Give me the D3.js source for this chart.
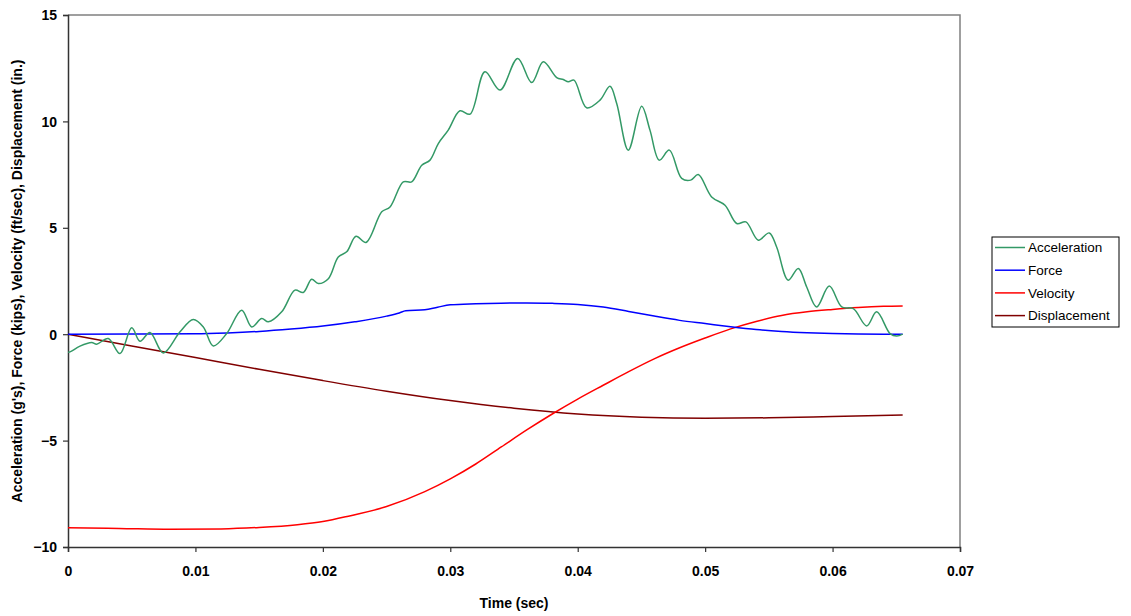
<!DOCTYPE html>
<html><head><meta charset="utf-8">
<script src="https://cdn.jsdelivr.net/npm/d3@7"></script>
<style>body{margin:0;background:#fff;}svg{display:block;font-family:"Liberation Sans",Arial,sans-serif;}</style>
</head><body><svg id="c" width="1131" height="616"></svg>
<script>
const xTicks = [0,0.01,0.02,0.03,0.04,0.05,0.06,0.07];
const xTickLabels = ["0","0.01","0.02","0.03","0.04","0.05","0.06","0.07"];
const yTicks = [-10,-5,0,5,10,15];
const seriesNames = ["Acceleration","Force","Velocity","Displacement"];
const seriesColors = ["#339966","#0000FF","#FF0000","#800000"];

const accelT = [0,0.00016,0.00094,0.00186,0.00225,0.00316,0.00408,0.0050,0.00565,0.00643,0.00748,0.00879,0.00983,0.01062,0.0114,0.01245,0.01363,0.01442,0.0152,0.01572,0.01677,0.01781,0.01846,0.01912,0.01964,0.02043,0.02121,0.02187,0.0226,0.02339,0.02462,0.02527,0.02631,0.02697,0.02776,0.02841,0.02906,0.02984,0.03076,0.03155,0.03272,0.0339,0.03529,0.03639,0.0373,0.03835,0.03887,0.03926,0.03971,0.0407,0.04175,0.04253,0.04306,0.04397,0.04502,0.04567,0.0464,0.04719,0.04816,0.04887,0.04946,0.05051,0.05156,0.05248,0.0532,0.05417,0.05503,0.05561,0.05652,0.05731,0.05797,0.05875,0.05974,0.06072,0.06163,0.06268,0.06346,0.06451,0.06503,0.0655];
const accelV = [-0.85,-0.83,-0.56,-0.39,-0.47,-0.2,-0.91,0.3,-0.33,0.08,-0.88,0.11,0.69,0.34,-0.55,0.03,1.13,0.34,0.74,0.58,1.05,2.07,1.96,2.58,2.38,2.61,3.63,3.87,4.6,4.31,5.75,5.98,7.16,7.16,7.94,8.18,8.96,9.59,10.5,10.34,12.33,11.47,12.96,11.83,12.8,12.06,11.97,11.86,11.94,10.64,11.0,11.65,10.84,8.65,10.71,9.59,8.18,8.65,7.32,7.24,7.5,6.45,6.06,5.2,5.28,4.42,4.76,4.1,2.54,3.09,2.22,1.28,2.26,1.28,1.2,0.39,1.05,0.03,-0.09,0.0];

const forceT = [0,0.005,0.01,0.0125,0.015,0.0175,0.02,0.0225,0.025,0.026,0.0265,0.028,0.029,0.030,0.032,0.034,0.036,0.038,0.040,0.042,0.044,0.046,0.048,0.050,0.052,0.054,0.056,0.058,0.060,0.062,0.0655];
const forceV = [0,0.01,0.02,0.06,0.13,0.24,0.38,0.58,0.85,1.0,1.1,1.15,1.27,1.38,1.43,1.46,1.47,1.45,1.40,1.28,1.07,0.85,0.65,0.50,0.35,0.22,0.13,0.07,0.03,0.01,0.0];

const velT = [0,0.004,0.008,0.012,0.015,0.018,0.020,0.022,0.025,0.028,0.030,0.032,0.034,0.036,0.038,0.040,0.042,0.044,0.046,0.048,0.050,0.052,0.054,0.056,0.058,0.060,0.062,0.064,0.0655];
const velV = [-9.10,-9.13,-9.17,-9.15,-9.08,-8.95,-8.80,-8.55,-8.10,-7.40,-6.80,-6.10,-5.30,-4.50,-3.75,-3.05,-2.40,-1.76,-1.16,-0.64,-0.18,0.25,0.60,0.88,1.05,1.16,1.25,1.31,1.33];

const dispT = [0,0.005,0.010,0.015,0.020,0.025,0.030,0.035,0.040,0.045,0.050,0.055,0.060,0.0655];
const dispV = [0,-0.55,-1.10,-1.65,-2.18,-2.68,-3.12,-3.48,-3.75,-3.90,-3.95,-3.93,-3.87,-3.80];

const svg = d3.select("#c");
const L=68,R=960,T=15,B=547;
const x = d3.scaleLinear().domain([0,0.07]).range([L,R]);
const y = d3.scaleLinear().domain([-10,15]).range([B,T]);

svg.append("path").attr("d",`M${L},${T}H${R}V${B}`).attr("fill","none").attr("stroke","#808080").attr("stroke-width",1.5);

const gx = svg.append("g").attr("transform",`translate(0,${B})`)
  .call(d3.axisBottom(x).tickValues(xTicks).tickFormat((d,i)=>xTickLabels[i]).tickSize(5).tickPadding(14));
const gy = svg.append("g").attr("transform",`translate(${L},0)`)
  .call(d3.axisLeft(y).tickValues(yTicks).tickSize(5).tickPadding(6));
[gx,gy].forEach(g=>{
  g.select(".domain").attr("stroke","#333").attr("stroke-width",1.5);
  g.selectAll(".tick line").attr("stroke","#333").attr("stroke-width",1.2);
  g.selectAll("text").attr("font-size",14).attr("font-weight","bold").attr("fill","#000").attr("font-family","Liberation Sans, Arial, sans-serif");
});
gx.selectAll("text").attr("dy","0.71em");
gy.selectAll("text").attr("dy","0.35em");

const series = [
  [accelT,accelV,d3.curveCatmullRom.alpha(0.5)],
  [forceT,forceV,d3.curveMonotoneX],
  [velT,velV,d3.curveMonotoneX],
  [dispT,dispV,d3.curveMonotoneX]
];
[3,2,1,0].forEach(i=>{
  const [ts,vs,cv]=series[i];
  const data=ts.map((t,k)=>[t,vs[k]]);
  svg.append("path").datum(data)
    .attr("d",d3.line().x(d=>x(d[0])).y(d=>y(d[1])).curve(cv))
    .attr("fill","none").attr("stroke",seriesColors[i]).attr("stroke-width",1.5);
});

svg.append("text").attr("x",(L+R)/2).attr("y",608).attr("text-anchor","middle")
  .attr("font-size",14).attr("font-weight","bold").text("Time (sec)");
svg.append("text").attr("transform",`translate(22,${(T+B)/2}) rotate(-90)`).attr("text-anchor","middle")
  .attr("font-size",14).attr("font-weight","bold").text("Acceleration (g's), Force (kips), Velocity (ft/sec), Displacement (in.)");

const lg = svg.append("g");
lg.append("rect").attr("x",992).attr("y",237).attr("width",127).attr("height",90).attr("fill","#fff").attr("stroke","#000").attr("stroke-width",1);
seriesNames.forEach((n,i)=>{
  const yy=247.5+i*22.7;
  lg.append("line").attr("x1",995).attr("x2",1025).attr("y1",yy).attr("y2",yy).attr("stroke",seriesColors[i]).attr("stroke-width",1.5);
  lg.append("text").attr("x",1028).attr("y",yy).attr("dy","0.35em").attr("font-size",13.5).text(n);
});
</script></body></html>
